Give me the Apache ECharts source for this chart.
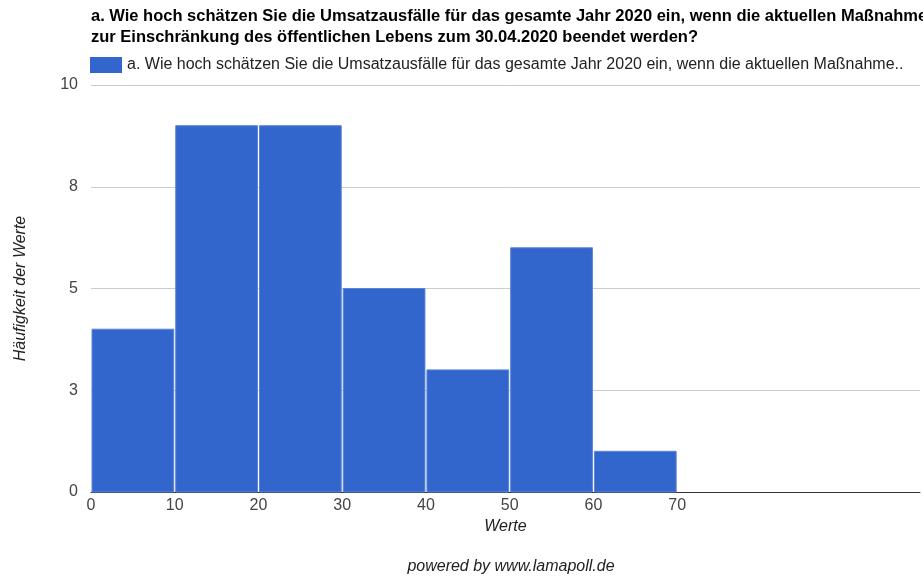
<!DOCTYPE html>
<html>
<head>
<meta charset="utf-8">
<script src="https://cdn.jsdelivr.net/npm/echarts@6/dist/echarts.min.js"></script>
<style>
  html, body { margin: 0; padding: 0; background: #fff; }
  #main { width: 923px; height: 576px; }
</style>
</head>
<body>
<div id="main"></div>
<script>
var seriesName = 'a. Wie hoch schätzen Sie die Umsatzausfälle für das gesamte Jahr 2020 ein, wenn die aktuellen Maßnahmen zur Einschränkung des öffentlichen Lebens zum 30.04.2020 beendet werden?';
var binStart = [0, 10, 20, 30, 40, 50, 60];
var binEnd = [10, 20, 30, 40, 50, 60, 70];
var counts = [4, 9, 9, 5, 3, 6, 1];

var myChart = echarts.init(document.getElementById('main'));

var data = [];
for (var i = 0; i < counts.length; i++) {
  data.push([binStart[i], binEnd[i], counts[i]]);
}

var option = {
  animation: false,
  textStyle: { fontFamily: 'Liberation Sans, Arial, sans-serif' },
  title: {
    text: 'a. Wie hoch schätzen Sie die Umsatzausfälle für das gesamte Jahr 2020 ein, wenn die aktuellen Maßnahmen\nzur Einschränkung des öffentlichen Lebens zum 30.04.2020 beendet werden?',
    left: 91,
    top: 6,
    padding: 0,
    textStyle: { fontSize: 16.5, fontWeight: 'bold', color: '#000', lineHeight: 21 }
  },
  legend: {
    left: 90,
    top: 57,
    padding: 0,
    itemWidth: 32,
    itemHeight: 16,
    itemGap: 7,
    icon: 'rect',
    data: [seriesName],
    textStyle: {
      fontSize: 16, color: '#222', width: 799, overflow: 'truncate', ellipsis: '..'
    }
  },
  grid: { left: 91, right: 0, top: 85, bottom: 84 },
  xAxis: {
    type: 'value',
    min: 0,
    max: 99,
    interval: 10,
    name: 'Werte',
    nameLocation: 'middle',
    nameGap: 25,
    nameTextStyle: { fontStyle: 'italic', fontSize: 16, color: '#222' },
    axisLine: { show: true, lineStyle: { color: '#333', width: 1 } },
    axisTick: { show: false },
    splitLine: { show: false },
    axisLabel: {
      fontSize: 16, color: '#444', margin: 6,
      formatter: function (v) { return v <= 70 ? String(v) : ''; }
    }
  },
  yAxis: {
    type: 'value',
    min: 0,
    max: 10,
    interval: 2.5,
    name: 'Häufigkeit der Werte',
    nameLocation: 'middle',
    nameGap: 62,
    nameTextStyle: { fontStyle: 'italic', fontSize: 16, color: '#222' },
    axisLine: { show: false },
    axisTick: { show: false },
    splitLine: { lineStyle: { color: '#cccccc' } },
    axisLabel: {
      fontSize: 16, color: '#444', margin: 13,
      formatter: function (v) { return String(Math.round(v)); }
    }
  },
  series: [{
    name: seriesName,
    type: 'custom',
    itemStyle: { color: '#3366cc' },
    renderItem: function (params, api) {
      var p0 = api.coord([api.value(0), api.value(2)]);
      var p1 = api.coord([api.value(1), 0]);
      return {
        type: 'rect',
        shape: { x: p0[0] + 1, y: p0[1], width: p1[0] - p0[0] - 2, height: p1[1] - p0[1] },
        style: { fill: '#3366cc', stroke: '#5a84d8', lineWidth: 1 }
      };
    },
    encode: { x: [0, 1], y: 2 },
    data: data
  }],
  graphic: [{
    type: 'text',
    x: 511,
    y: 567,
    style: {
      text: 'powered by www.lamapoll.de',
      font: 'italic 16px Liberation Sans, Arial, sans-serif',
      fill: '#222',
      textAlign: 'center',
      textVerticalAlign: 'middle'
    }
  }]
};

myChart.setOption(option);
</script>
</body>
</html>
